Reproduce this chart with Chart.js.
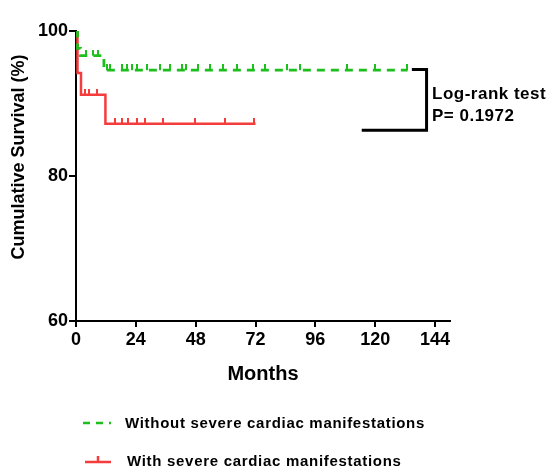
<!DOCTYPE html>
<html>
<head>
<meta charset="utf-8">
<script src="https://cdn.jsdelivr.net/npm/chart.js@4"></script>
<style>
  html, body { margin: 0; padding: 0; background: #fff; }
</style>
</head>
<body>
<canvas id="km" width="552" height="469"></canvas>
<script>
const seriesNames = ['Without severe cardiac manifestations', 'With severe cardiac manifestations'];

// Kaplan-Meier steps (months, cumulative survival %)
const withoutMonths = [0, 0.6, 1.8, 11.2, 133];
const withoutSurvival = [100, 97.6, 96.6, 94.6, 94.6];
const withMonths = [0, 0.6, 2, 11.8, 72];
const withSurvival = [100, 94.2, 91.2, 87.2, 87.2];

// censored patients (months)
const withoutCensored = [4, 7, 9, 12.3, 13.6, 18.5, 20.5, 22.5, 24.3, 28.4, 33.7, 37.7, 42.5, 44.1, 48.9, 53.7, 59, 64.6, 71, 75.8, 84.6, 89.8, 108.7, 119.9, 132.6];
const withCensored = [3.6, 5.3, 8.3, 15.7, 18.4, 20.9, 24.4, 27.7, 35, 47.8, 59.8, 71.5];

const xTicks = [0, 24, 48, 72, 96, 120, 144];
const yTicks = [60, 80, 100];

const logRankLabel = ['Log-rank test', 'P= 0.1972'];
const bracketMonths = [134.7, 140.6, 140.6, 114.6];
const bracketSurvival = [94.7, 94.7, 86.3, 86.3];

const green = '#1dbf1d';
const red = '#f53c3c';

function toPoints(xs, ys) {
    return xs.map((x, i) => ({ x: x, y: ys[i] }));
}

// survival level at a censoring time
function levelAt(xs, ys, t) {
    let v = ys[0];
    for (let i = 0; i < xs.length; i++) {
        if (xs[i] <= t) v = ys[i];
    }
    return v;
}

// small upward tick, drawn centred so only the top half shows
function censorMark(color) {
    const c = document.createElement('canvas');
    c.width = 2;
    c.height = 12;
    const g = c.getContext('2d');
    g.fillStyle = color;
    g.fillRect(0, 0, 2, 6);
    return c;
}

const textPlugin = {
    id: 'texts',
    afterDraw(chart) {
        const ctx = chart.ctx;
        ctx.save();
        ctx.fillStyle = '#000';

        // y title
        ctx.save();
        ctx.translate(19, 157);
        ctx.rotate(-Math.PI / 2);
        ctx.font = 'bold 18px "Liberation Sans", Arial, sans-serif';
        ctx.textAlign = 'center';
        ctx.textBaseline = 'middle';
        ctx.fillText('Cumulative Survival (%)', 0, 0);
        ctx.restore();

        // x title
        ctx.font = 'bold 20px "Liberation Sans", Arial, sans-serif';
        ctx.textAlign = 'center';
        ctx.textBaseline = 'alphabetic';
        ctx.fillText('Months', 263, 380);

        // log-rank note
        ctx.font = 'bold 17px "Liberation Sans", Arial, sans-serif';
        ctx.textAlign = 'left';
        ctx.letterSpacing = '0.5px';
        ctx.fillText(logRankLabel[0], 432, 99);
        ctx.fillText(logRankLabel[1], 432, 121);

        // legend
        ctx.font = 'bold 15px "Liberation Sans", Arial, sans-serif';
        ctx.letterSpacing = '0.7px';
        ctx.textBaseline = 'middle';
        ctx.fillText(seriesNames[0], 125, 424);
        ctx.fillText(seriesNames[1], 127, 462);

        ctx.lineWidth = 2.5;
        ctx.strokeStyle = green;
        ctx.setLineDash([7, 6]);
        ctx.beginPath();
        ctx.moveTo(83, 423);
        ctx.lineTo(111, 423);
        ctx.stroke();

        ctx.setLineDash([]);
        ctx.strokeStyle = red;
        ctx.beginPath();
        ctx.moveTo(85, 462);
        ctx.lineTo(111, 462);
        ctx.moveTo(98, 462);
        ctx.lineTo(98, 456);
        ctx.stroke();
        ctx.restore();
    }
};

new Chart(document.getElementById('km'), {
    type: 'line',
    data: {
        datasets: [
            {
                label: seriesNames[0],
                data: toPoints(withoutMonths, withoutSurvival),
                borderColor: green,
                borderWidth: 2.8,
                borderDash: [8, 6],
                stepped: 'before',
                pointRadius: 0,
                fill: false
            },
            {
                label: seriesNames[0] + ' censored',
                type: 'scatter',
                data: withoutCensored.map(t => ({ x: t, y: levelAt(withoutMonths, withoutSurvival, t) })),
                pointStyle: censorMark(green),
                pointRadius: 6
            },
            {
                label: seriesNames[1],
                data: toPoints(withMonths, withSurvival),
                borderColor: red,
                borderWidth: 2.5,
                stepped: 'before',
                pointRadius: 0,
                fill: false
            },
            {
                label: seriesNames[1] + ' censored',
                type: 'scatter',
                data: withCensored.map(t => ({ x: t, y: levelAt(withMonths, withSurvival, t) })),
                pointStyle: censorMark(red),
                pointRadius: 6
            },
            {
                label: 'bracket',
                data: toPoints(bracketMonths, bracketSurvival),
                borderColor: '#000',
                borderWidth: 3,
                pointRadius: 0,
                borderJoinStyle: 'miter',
                fill: false
            }
        ]
    },
    options: {
        responsive: false,
        animation: false,
        devicePixelRatio: 1,
        layout: { padding: { top: 31, right: 102, bottom: 0, left: 0 } },
        plugins: {
            legend: { display: false },
            tooltip: { enabled: false }
        },
        scales: {
            x: {
                type: 'linear',
                min: 0,
                max: 150,
                afterBuildTicks: scale => { scale.ticks = xTicks.map(v => ({ value: v })); },
                afterFit: scale => { scale.height = 148; },
                border: { display: true, color: '#000', width: 2 },
                grid: { display: true, drawOnChartArea: false, drawTicks: true, tickLength: 6, color: '#000', lineWidth: 2 },
                ticks: {
                    autoSkip: false,
                    maxRotation: 0,
                    padding: 2,
                    color: '#000',
                    font: { family: '"Liberation Sans", Arial, sans-serif', size: 18, weight: 'bold' }
                }
            },
            y: {
                type: 'linear',
                min: 60,
                max: 100,
                afterBuildTicks: scale => { scale.ticks = yTicks.map(v => ({ value: v })); },
                afterFit: scale => { scale.width = 76; },
                border: { display: true, color: '#000', width: 2 },
                grid: { display: true, drawOnChartArea: false, drawTicks: true, tickLength: 7, color: '#000', lineWidth: 2 },
                ticks: {
                    padding: 1,
                    color: '#000',
                    font: { family: '"Liberation Sans", Arial, sans-serif', size: 18, weight: 'bold' }
                }
            }
        }
    },
    plugins: [textPlugin]
});
</script>
</body>
</html>
